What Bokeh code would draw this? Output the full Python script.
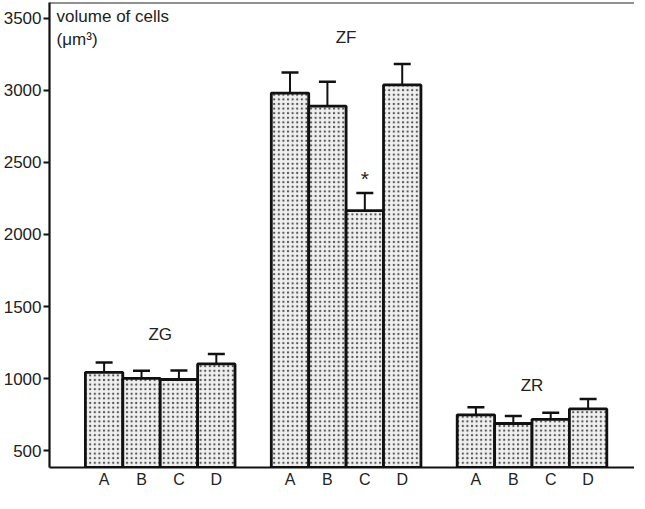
from bokeh.plotting import figure
from bokeh.models import (Range1d, FixedTicker, Label, ColumnDataSource,
                          Whisker, TeeHead, Span)
from bokeh.embed import file_html
from bokeh.resources import INLINE

zones = ["ZG", "ZF", "ZR"]
groups = ["A", "B", "C", "D"]
zg_mean = [1045, 1003, 995, 1103]
zg_err = [68, 52, 62, 68]
zf_mean = [2980, 2890, 2165, 3037]
zf_err = [142, 168, 122, 145]
zr_mean = [750, 690, 719, 791]
zr_err = [53, 52, 45, 68]
y_ticks = [500, 1000, 1500, 2000, 2500, 3000, 3500]
y_label_1 = "volume of cells"
y_label_2 = "(\u03bcm\u00b3)"
significant = [("ZF", "C")]

means = [zg_mean, zf_mean, zr_mean]
errs = [zg_err, zf_err, zr_err]

xs, tops, uppers, labels = [], [], [], []
for zi, z in enumerate(zones):
    for gi, g in enumerate(groups):
        xs.append(zi * 4.97 + 1.46 + gi)
        tops.append(means[zi][gi])
        uppers.append(means[zi][gi] + errs[zi][gi])
        labels.append(g)

src = ColumnDataSource(dict(x=xs, top=tops, upper=uppers))

FONT = "Liberation Sans"
TXT = "#222222"
FS = "17px"
Y_MIN, Y_MAX = 385, 3608

p = figure(width=634, height=490, output_backend="svg",
           toolbar_location=None, outline_line_color=None,
           x_range=Range1d(0, 15.64), y_range=Range1d(Y_MIN, Y_MAX),
           min_border_left=49, min_border_top=2, min_border_right=0,
           min_border_bottom=0)
p.xgrid.visible = False
p.ygrid.visible = False
p.background_fill_color = "white"

p.vbar(x="x", top="top", bottom=0, width=1.0, source=src,
       fill_color="#f0f0f0", line_color="#111111", line_width=2.8,
       hatch_pattern="dot", hatch_scale=4.6, hatch_weight=1.6,
       hatch_color="#555555")

w = Whisker(source=src, base="x", lower="top", upper="upper",
            line_color="#111111", line_width=2,
            upper_head=TeeHead(size=17, line_color="#111111", line_width=2.5),
            lower_head=None, level="glyph")
p.add_layout(w)

p.add_layout(Span(location=Y_MAX, dimension="width", line_color="#222222",
                  line_width=2.2))

# axes
yax = p.yaxis[0]
yax.ticker = FixedTicker(ticks=y_ticks)
yax.minor_tick_line_color = None
yax.minor_tick_out = 0
yax.minor_tick_in = 0
yax.major_tick_in = 0
yax.major_tick_out = 6
yax.major_tick_line_width = 2
yax.axis_line_width = 2.2
yax.axis_line_color = "#111111"
yax.major_tick_line_color = "#111111"
yax.major_label_text_font = FONT
yax.major_label_text_font_size = FS
yax.major_label_text_color = TXT
yax.major_label_standoff = 2

xax = p.xaxis[0]
xax.ticker = FixedTicker(ticks=xs)
xax.major_label_overrides = {x: l for x, l in zip(xs, labels)}
xax.major_tick_line_color = None
xax.minor_tick_line_color = None
xax.major_tick_in = 0
xax.major_tick_out = 0
xax.minor_tick_in = 0
xax.minor_tick_out = 0
xax.axis_label_standoff = 0
xax.axis_line_width = 2.2
xax.axis_line_color = "#111111"
xax.major_label_text_font = FONT
xax.major_label_text_font_size = "16px"
xax.major_label_text_color = TXT
xax.major_label_standoff = 3

# annotations
p.add_layout(Label(x=0.19, y=3578, text=y_label_1, text_font=FONT,
                   text_font_size=FS, text_color=TXT, text_baseline="top"))
p.add_layout(Label(x=0.19, y=3420, text=y_label_2, text_font=FONT,
                   text_font_size=FS, text_color=TXT, text_baseline="top"))

zone_label_y = {"ZG": 1306, "ZF": 3364, "ZR": 954}
for zi, z in enumerate(zones):
    cx = zi * 4.97 + 1.46 + 1.5
    p.add_layout(Label(x=cx, y=zone_label_y[z], text=z, text_font=FONT,
                       text_font_size=FS, text_color=TXT,
                       text_align="center", text_baseline="middle"))

for z, g in significant:
    zi = zones.index(z)
    gi = groups.index(g)
    idx = zi * 4 + gi
    p.add_layout(Label(x=xs[idx], y=uppers[idx] + 20, text="*", text_font=FONT,
                       text_font_size="21px", text_color=TXT,
                       text_align="center", text_baseline="bottom"))

open("out.html", "w").write(file_html(p, INLINE))
